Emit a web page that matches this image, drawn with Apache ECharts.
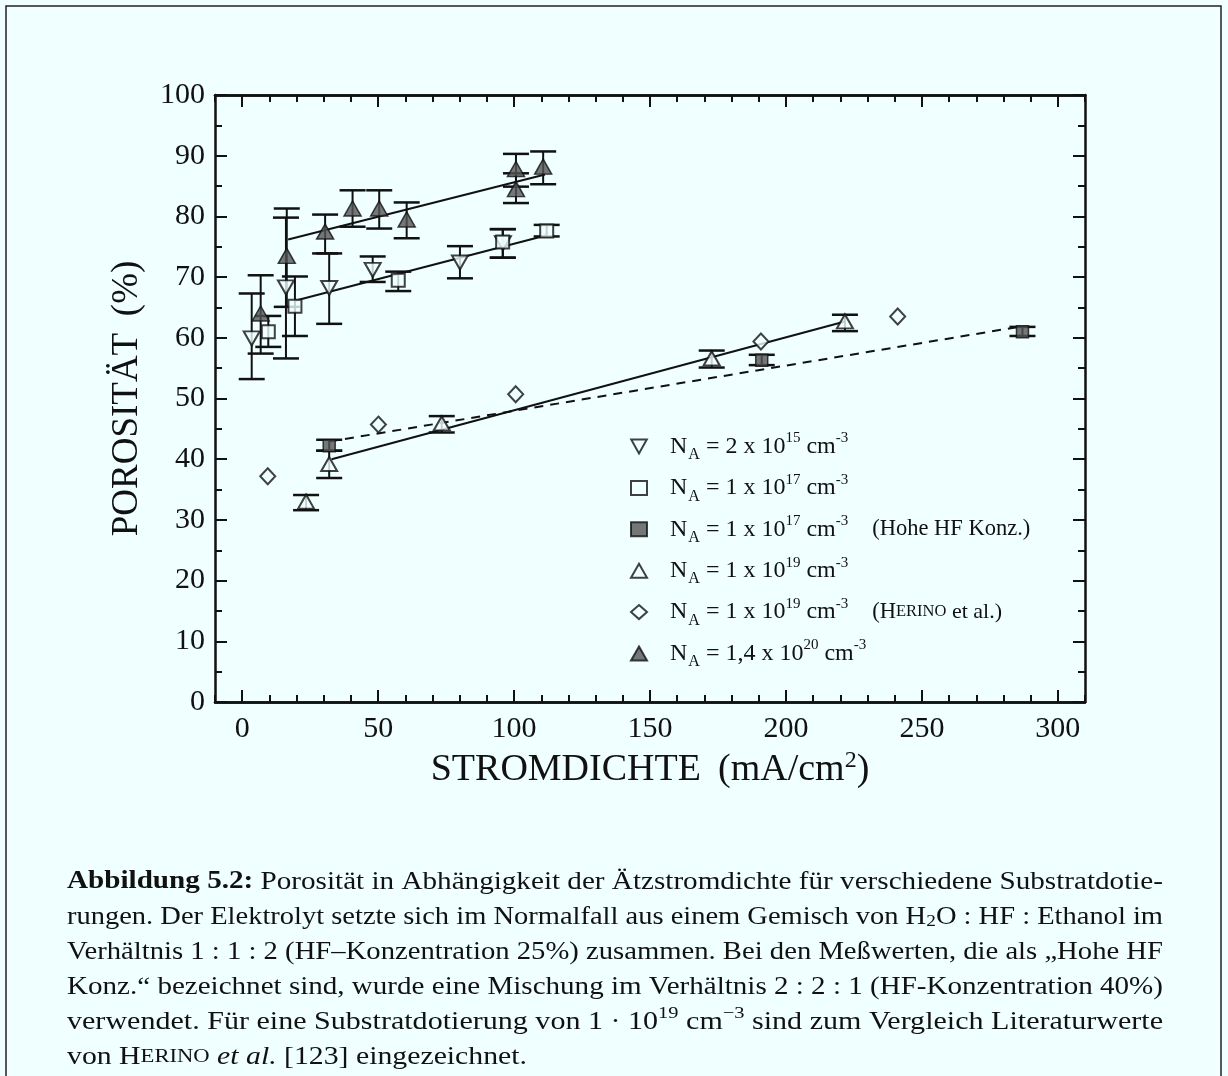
<!DOCTYPE html>
<html><head><meta charset="utf-8">
<script src="https://cdn.jsdelivr.net/npm/echarts@6/dist/echarts.min.js"></script>
<style>html,body{margin:0;padding:0;background:#f0ffff}#c{width:1228px;height:1076px}</style>
</head><body><div id="c"></div>
<script>
// ---- data: [x, y, yLow, yHigh] ----
const na2e15   = [[3.5,59.9,53.2,67.3],[16.1,68.3,56.6,79.8],[32.0,68.2,62.3,73.9],[48.0,71.2,69.2,73.4],[80.1,72.4,69.8,75.1],[95.9,75.6,73.2,77.9]];
const na1e17   = [[9.6,61.0,58.5,63.6],[19.4,65.2,60.3,70.1],[57.4,69.5,67.7,70.9],[95.8,75.8,73.2,77.9],[112.0,77.6,76.7,78.6]];
const na1e17hf = [[32.0,42.2,41.4,43.2],[191.1,56.3,55.5,57.2],[287.0,61.0,60.3,61.8]];
const na1e19   = [[23.5,33.0,31.6,34.1],[32.0,39.2,36.9,41.4],[73.4,45.9,44.4,47.1],[172.7,56.6,55.1,57.9],[221.7,62.7,61.1,63.8]];
const herino   = [[9.4,37.2],[50.1,45.7],[100.6,50.7],[190.8,59.4],[241.1,63.5]];
const na14e20  = [[6.8,64.0,57.4,70.3],[16.4,73.5,65.1,81.3],[30.5,77.5,73.9,80.3],[40.6,81.3,78.3,84.3],[50.4,81.3,78.0,84.3],[60.5,79.5,76.4,82.3],[100.7,87.8,84.9,90.3],[100.7,84.5,82.2,87.1],[110.7,88.2,85.3,90.7]];
// fit lines
const fit14e20 = [[16.9,76.2],[111.4,86.9]];
const fit1e17  = [[19.4,66.1],[112.0,76.9]];
const fit1e19  = [[32.9,40.0],[221.7,62.7]];
const fitHF    = [[32.0,42.9],[287.0,61.9]];
// axis ticks
const xMajor = [0,50,100,150,200,250,300];
const names = ['S1','S2','S3','S4','S5','S6'];
const legendText = {
  S1:'{n0|N}{sub|A}{n| = 2 x 10}{sup|15}{n| cm}{sup|-3}',
  S2:'{n0|N}{sub|A}{n| = 1 x 10}{sup|17}{n| cm}{sup|-3}',
  S3:'{n0|N}{sub|A}{n| = 1 x 10}{sup|17}{n| cm}{sup|-3}{note|(Hohe HF Konz.)}',
  S4:'{n0|N}{sub|A}{n| = 1 x 10}{sup|19}{n| cm}{sup|-3}',
  S5:'{n0|N}{sub|A}{n| = 1 x 10}{sup|19}{n| cm}{sup|-3}{note|(H}{sc|ERINO}{n2| et al.)}',
  S6:'{n0|N}{sub|A}{n| = 1,4 x 10}{sup|20}{n| cm}{sup|-3}'
};
const captionLines = [
  [['b','Abbildung 5.2:'],['r',' Porosität in Abhängigkeit der Ätzstromdichte für verschiedene Substratdotie-']],
  [['r','rungen. Der Elektrolyt setzte sich im Normalfall aus einem Gemisch von H'],['sub','2'],['r','O : HF : Ethanol im']],
  [['r','Verhältnis 1 : 1 : 2 (HF–Konzentration 25%) zusammen. Bei den Meßwerten, die als „Hohe HF']],
  [['r','Konz.“ bezeichnet sind, wurde eine Mischung im Verhältnis 2 : 2 : 1 (HF-Konzentration 40%)']],
  [['r','verwendet. Für eine Substratdotierung von 1 · 10'],['sup','19'],['r',' cm'],['sup','−3'],['r',' sind zum Vergleich Literaturwerte']],
  [['r','von H'],['sc','ERINO'],['r',' '],['it','et al.'],['r',' [123] eingezeichnet.']]
];

const FF = 'Liberation Serif';
const INK = '#111';
const BG = '#f0ffff';

const chart = echarts.init(document.getElementById('c'), null, {renderer:'canvas'});

function errRender(params, api) {
  const x = api.value(0), lo = api.value(2), hi = api.value(3);
  const a = api.coord([x, hi]), b = api.coord([x, lo]);
  const hw = 13;
  const st = {stroke: INK, lineWidth: 2};
  return {type:'group', children:[
    {type:'line', shape:{x1:a[0],y1:a[1],x2:b[0],y2:b[1]}, style:st},
    {type:'line', shape:{x1:a[0]-hw,y1:a[1],x2:a[0]+hw,y2:a[1]}, style:{stroke:INK,lineWidth:2.5}},
    {type:'line', shape:{x1:b[0]-hw,y1:b[1],x2:b[0]+hw,y2:b[1]}, style:{stroke:INK,lineWidth:2.5}}
  ]};
}
function errSeries(data) {
  return {type:'custom', renderItem: errRender, data: data, encode:{x:0, y:[1,2,3]}, z:3, silent:true};
}
function fitSeries(data, dashed) {
  return {type:'line', data:data, symbol:'none', z:2, silent:true,
    lineStyle:{color:INK, width:2, type: dashed ? [9,7] : 'solid'}};
}
const openStyle = {color: BG, borderColor: INK, borderWidth: 2};
const fillStyle = {color: '#555555', borderColor: INK, borderWidth: 1.5};
function scatter(name, data, symbol, size, style) {
  return {type:'scatter', name:name, data:data, symbol:symbol, symbolSize:size, itemStyle:style, z:4, silent:true};
}

// caption
const capRich = {
  r:{fontFamily:FF, fontSize:25, lineHeight:30},
  b:{fontFamily:FF, fontSize:25, fontWeight:'bold', lineHeight:30},
  it:{fontFamily:FF, fontSize:25, fontStyle:'italic', lineHeight:30},
  sc:{fontFamily:FF, fontSize:19, lineHeight:30},
  sub:{fontFamily:FF, fontSize:17, lineHeight:30, padding:[10,0,0,0]},
  sup:{fontFamily:FF, fontSize:17, lineHeight:30, padding:[0,0,16,0]}
};
const cv = document.createElement('canvas').getContext('2d');
function measure(segs) {
  let w = 0;
  segs.forEach(([s,t]) => {
    const st = capRich[s];
    cv.font = (st.fontStyle||'normal') + ' ' + (st.fontWeight||'normal') + ' ' + st.fontSize + 'px "' + FF + '"';
    w += cv.measureText(t).width;
  });
  return w;
}
const capY = [882, 917, 952, 987, 1022, 1057];
const capW = [1096, 1096, 1096, 1096, 1096, 460];
const graphics = [{type:'rect', shape:{x:6, y:6, width:1215, height:1120}, style:{fill:'none', stroke:'#222', lineWidth:1.5}, z:0, silent:true}];
captionLines.forEach((segs, i) => {
  const w = measure(segs);
  graphics.push({type:'text', x:67, y:capY[i], scaleX: capW[i]/w, z:10, silent:true,
    style:{text: segs.map(([s,t]) => '{'+s+'|'+t+'}').join(''), rich: capRich, fill: INK, align:'left', verticalAlign:'middle'}});
});

const axisLineStyle = {color: INK, width: 2.5};
function xAx(pos, major, labels, extra) {
  return Object.assign({type:'value', min:-10, max:310, interval:10, position:pos,
    axisLine:{show:true, onZero:false, lineStyle:axisLineStyle},
    axisTick:major ? {show:true, inside:true, length:12, customValues:xMajor, lineStyle:{color:INK, width:2}}
                   : {show:true, inside:true, length:7, lineStyle:{color:INK, width:2}},
    axisLabel:labels ? {show:true, customValues:xMajor, margin:12, fontFamily:FF, fontSize:30, color:INK} : {show:false},
    splitLine:{show:false}}, extra||{});
}
function yAx(pos, labels, extra) {
  return Object.assign({type:'value', min:0, max:100, interval:10, position:pos,
    axisLine:{show:true, onZero:false, lineStyle:axisLineStyle},
    axisTick:{show:true, inside:true, length:12, lineStyle:{color:INK, width:2}},
    minorTick:{show:true, splitNumber:2, length:7, lineStyle:{color:INK, width:2}},
    axisLabel:labels ? {show:true, margin:10, fontFamily:FF, fontSize:30, color:INK} : {show:false},
    splitLine:{show:false}}, extra||{});
}

const option = {
  backgroundColor: BG,
  animation: false,
  grid: {left:215, right:143, top:95, bottom:374},
  xAxis: [
    xAx('bottom', false, false),
    xAx('bottom', true, true, {name:'{a|STROMDICHTE \u2009(mA/cm}{s|2}{a|)}', nameLocation:'middle', nameGap:40,
      nameTextStyle:{rich:{a:{fontFamily:FF, fontSize:38, color:INK, lineHeight:44}, s:{fontFamily:FF, fontSize:24, color:INK, lineHeight:44, padding:[0,0,18,0]}}}}),
    xAx('top', false, false),
    xAx('top', true, false)
  ],
  yAxis: [
    yAx('left', true, {name:'POROSITÄT \u2009(%)', nameLocation:'middle', nameGap:69,
      nameTextStyle:{fontFamily:FF, fontSize:37, color:INK}}),
    yAx('right', false)
  ],
  legend: {
    orient:'vertical', left:625, top:425, itemWidth:16, itemHeight:14, itemGap:8.4,
    selectedMode:false, data:names,
    formatter: n => legendText[n],
    textStyle:{fontFamily:FF, fontSize:24, color:INK, rich:{
      n0:{fontFamily:FF, fontSize:24, lineHeight:30, color:INK, padding:[0,0,0,18]},
      n:{fontFamily:FF, fontSize:24, lineHeight:30, color:INK},
      n2:{fontFamily:FF, fontSize:22, lineHeight:30, color:INK},
      sub:{fontFamily:FF, fontSize:16, lineHeight:30, color:INK, padding:[17,0,0,1]},
      sup:{fontFamily:FF, fontSize:15, lineHeight:30, color:INK, padding:[0,0,16,0]},
      sc:{fontFamily:FF, fontSize:16.5, lineHeight:30, color:INK},
      note:{fontFamily:FF, fontSize:22.5, lineHeight:30, color:INK, padding:[0,0,0,24]}
    }}
  },
  graphic: graphics,
  series: [
    fitSeries(fit14e20, false), fitSeries(fit1e17, false), fitSeries(fit1e19, false), fitSeries(fitHF, true),
    errSeries(na2e15), errSeries(na1e17), errSeries(na1e17hf), errSeries(na1e19), errSeries(na14e20),
    scatter('S1', na2e15, 'path://M0,0L20,0L10,18Z', [16,14], openStyle),
    scatter('S2', na1e17, 'rect', 13, openStyle),
    scatter('S3', na1e17hf, 'rect', 12, fillStyle),
    scatter('S4', na1e19, 'triangle', [16,14], openStyle),
    scatter('S5', herino, 'diamond', [15,16], openStyle),
    scatter('S6', na14e20, 'triangle', [17,15], fillStyle)
  ]
};
chart.setOption(option);
</script></body></html>
